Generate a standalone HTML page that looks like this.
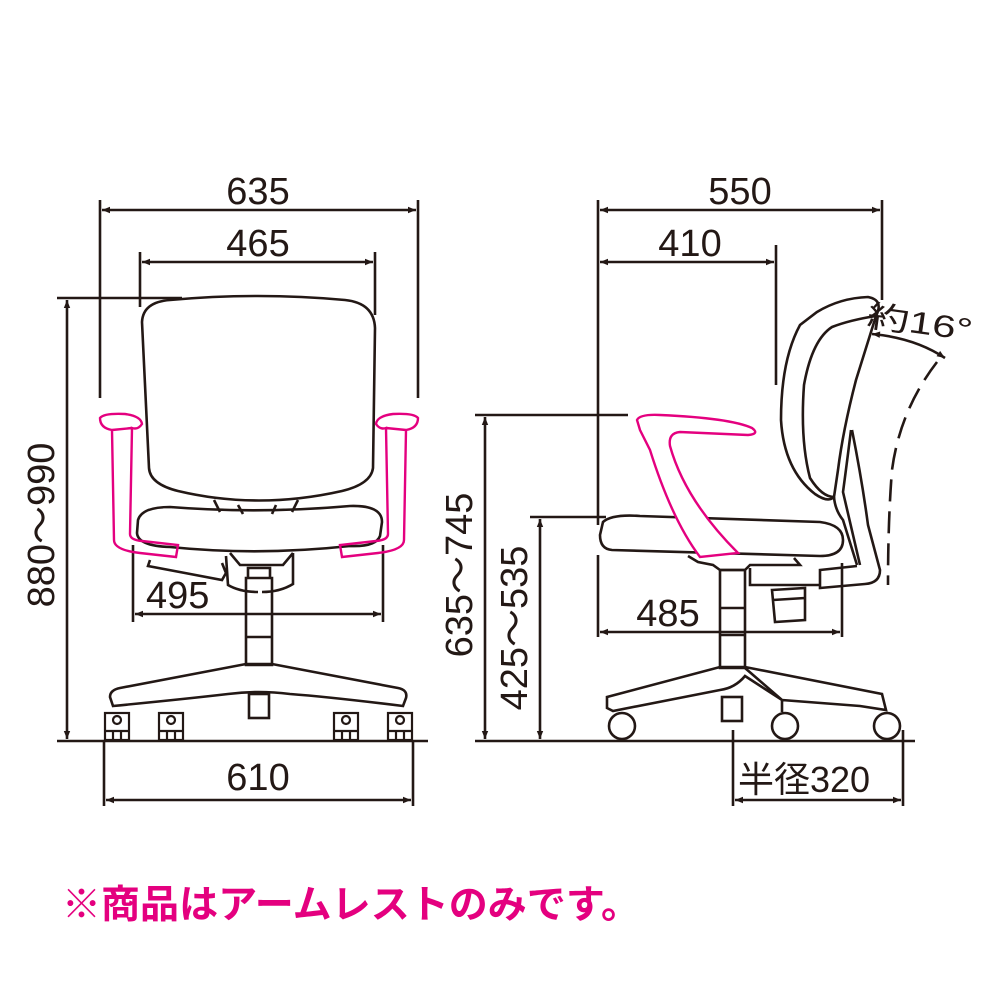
<!DOCTYPE html>
<html><head><meta charset="utf-8"><style>
html,body{margin:0;padding:0;background:#fff;}
svg{display:block}
text{font-family:"Liberation Sans","Noto Sans CJK JP",sans-serif;fill:#231815}
</style></head><body>
<svg width="1000" height="1000" viewBox="0 0 1000 1000" xmlns="http://www.w3.org/2000/svg">
<defs>
<marker id="a" viewBox="0 0 10 10" refX="10" refY="5" markerWidth="10" markerHeight="8" orient="auto-start-reverse" markerUnits="userSpaceOnUse"><path d="M0,1 L10,5 L0,9 Z" fill="#231815"/></marker>
</defs>
<g stroke="#231815" stroke-width="2.6" fill="none">
<!-- FRONT dims -->
<line x1="100" y1="200" x2="100" y2="398"/><line x1="418" y1="200" x2="418" y2="398"/>
<line x1="102" y1="210" x2="416" y2="210" marker-start="url(#a)" marker-end="url(#a)"/>
<line x1="140" y1="252" x2="140" y2="307"/><line x1="375" y1="252" x2="375" y2="315"/>
<line x1="142" y1="262" x2="373" y2="262" marker-start="url(#a)" marker-end="url(#a)"/>
<line x1="57" y1="298" x2="182" y2="298"/>
<line x1="67" y1="300" x2="67" y2="739" marker-start="url(#a)" marker-end="url(#a)"/>
<line x1="133" y1="545" x2="133" y2="622"/><line x1="383" y1="545" x2="383" y2="622"/>
<line x1="135" y1="614" x2="381" y2="614" marker-start="url(#a)" marker-end="url(#a)"/>
<line x1="57" y1="741" x2="428" y2="741"/>
<line x1="104" y1="741" x2="104" y2="806"/><line x1="413" y1="741" x2="413" y2="806"/>
<line x1="106" y1="800" x2="411" y2="800" marker-start="url(#a)" marker-end="url(#a)"/>
<!-- FRONT chair -->
<path d="M142,322 Q143,302 170,300 Q258,292 345,300 Q374,303 375,328 L373,468 Q371,484 342,491 Q258,510 178,491 Q150,484 149,468 Z"/>
<path d="M214,500 L220,512 M298,500 L292,512 M238,505 L243,514 M276,505 L272,514"/>
<path d="M138,520 Q142,507 170,507 Q258,514 350,506 Q382,505 382,522 L380,536 Q376,547 350,546 Q258,556 170,547 Q138,546 137,533 Z"/>
<path d="M230,553 L240,565 L283,565 L293,553 M226,556 L228,585 Q240,592 258,592 M293,553 L293,584 Q280,592 262,592"/>
<path d="M150,560 L148,566 L185,573 L222,580 L226,573 L222,563"/>
<path d="M248,568 L270,568 L270,578 L248,578 Z M246,578 L272,578 L272,665 L246,665 Z M246,637 L272,637"/>
<path d="M113,706 L110,697 Q110,690 120,688 L246,664 L272,664 L398,688 Q408,690 406,698 L403,706 Q330,697 290,694 Q258,690 228,694 Q185,699 113,706 Z"/>
<rect x="249" y="694" width="20" height="24"/>
<g stroke-width="2.2">
<rect x="105" y="713" width="24" height="27"/><circle cx="117" cy="720" r="4"/><line x1="105" y1="731" x2="129" y2="731"/><line x1="113" y1="731" x2="113" y2="740"/><line x1="121" y1="731" x2="121" y2="740"/>
<rect x="159" y="713" width="24" height="27"/><circle cx="171" cy="720" r="4"/><line x1="159" y1="731" x2="183" y2="731"/><line x1="167" y1="731" x2="167" y2="740"/><line x1="175" y1="731" x2="175" y2="740"/>
<rect x="334" y="713" width="24" height="27"/><circle cx="346" cy="720" r="4"/><line x1="334" y1="731" x2="358" y2="731"/><line x1="342" y1="731" x2="342" y2="740"/><line x1="350" y1="731" x2="350" y2="740"/>
<rect x="388" y="713" width="24" height="27"/><circle cx="400" cy="720" r="4"/><line x1="388" y1="731" x2="412" y2="731"/><line x1="396" y1="731" x2="396" y2="740"/><line x1="404" y1="731" x2="404" y2="740"/>
</g>
<!-- SIDE dims -->
<line x1="598" y1="200" x2="598" y2="525"/><line x1="882" y1="200" x2="882" y2="300"/>
<line x1="600" y1="210" x2="880" y2="210" marker-start="url(#a)" marker-end="url(#a)"/>
<line x1="776" y1="245" x2="776" y2="385"/>
<line x1="600" y1="262" x2="774" y2="262" marker-start="url(#a)" marker-end="url(#a)"/>
<line x1="475" y1="415" x2="628" y2="415"/>
<line x1="485" y1="417" x2="485" y2="739" marker-start="url(#a)" marker-end="url(#a)"/>
<line x1="530" y1="517" x2="606" y2="517"/>
<line x1="540" y1="519" x2="540" y2="739" marker-start="url(#a)" marker-end="url(#a)"/>
<line x1="598" y1="555" x2="598" y2="637"/><line x1="842" y1="563" x2="842" y2="637"/>
<line x1="600" y1="632" x2="840" y2="632" marker-start="url(#a)" marker-end="url(#a)"/>
<line x1="475" y1="741" x2="915" y2="741"/>
<line x1="733" y1="730" x2="733" y2="806"/><line x1="903" y1="730" x2="903" y2="806"/>
<line x1="735" y1="800" x2="901" y2="800" marker-start="url(#a)" marker-end="url(#a)"/>
<!-- SIDE chair -->
<path d="M817,312 Q840,298 868,297 Q884,300 876,316 L856,380 Q843,430 838,470 L834,497 Q828,503 815,494 Q784,470 781,420 Q781,360 800,325 Z"/>
<path d="M876,316 Q850,320 832,327 Q812,340 804,385 Q800,440 810,478 Q822,497 834,497"/>
<path d="M851,430 Q846,470 843,492 L860,565 M834,497 Q835,510 843,520 L857,565"/>
<path d="M852,430 Q862,480 868,525 L880,570 Q880,583 865,584 L820,588 L820,570 L857,566"/>
<path d="M603,522 Q612,514 640,516 L820,522 Q843,525 843,540 Q843,556 820,556 L612,550 Q600,549 600,535 Z"/>
<path d="M688,556 L698,562 L713,565 L720,570 L745,570 L750,565 L800,565 L794,558"/>
<path d="M750,568 L750,585 L820,585"/>
<path d="M772,590 L805,588 L805,620 L775,622 Z M773,600 L805,598"/>
<path d="M720,570 L745,570 L745,668 L720,668 Z M720,608 L745,608 M720,635 L745,635"/>
<path d="M607,697 L720,667 L745,667 L882,694 L886,710 L860,706 L782,700 L745,676 Q735,688 720,690 L613,711 L607,708 Z M745,668 L782,700 L782,712"/>
<rect x="722" y="697" width="20" height="24"/>
<circle cx="622" cy="726" r="13"/><circle cx="785" cy="726" r="13"/><circle cx="887" cy="726" r="13"/>
<path d="M937,362 Q900,410 892,470 Q888,520 888,585" stroke-dasharray="22,10"/>
<path d="M872,334 Q915,338 945,358" marker-start="url(#a)" marker-end="url(#a)"/>
</g>
<g stroke="#e4007f" stroke-width="2.4" fill="none">
<path d="M100,418 Q104,413 125,414 Q141,416 142,424 Q138,430 132,428 L130,534 Q130,540 142,541 L178,545 L176,557 L140,553 Q114,550 114,540 L112,430 Q100,428 100,418 Z M112,430 L132,428"/>
<path d="M418,418 Q414,413 393,414 Q377,416 376,424 Q380,430 386,428 L388,534 Q388,540 376,541 L340,545 L342,557 L378,553 Q404,550 404,540 L406,430 Q418,428 418,418 Z M406,430 L386,428"/>
<path fill="#fff" d="M637,420 Q640,414 660,415 Q730,418 752,428 Q760,434 748,435 L680,432 Q668,433 670,446 Q685,500 738,553 L700,557 Q672,520 650,450 L640,430 Z"/>
</g>
<g font-size="38">
<text x="258" y="204" text-anchor="middle">635</text>
<text x="258" y="256" text-anchor="middle">465</text>
<text x="146" y="608">495</text>
<text x="258" y="790" text-anchor="middle">610</text>
<text x="740" y="204" text-anchor="middle">550</text>
<text x="690" y="256" text-anchor="middle">410</text>
<text x="668" y="626" text-anchor="middle">485</text>
<text x="738" y="792" font-size="36">半径320</text>
<text transform="translate(54,525) rotate(-90)" text-anchor="middle">880～990</text>
<text transform="translate(472,575) rotate(-90)" text-anchor="middle">635～745</text>
<text transform="translate(527,628) rotate(-90)" text-anchor="middle">425～535</text>
</g>
<text transform="translate(866,326) rotate(8)" font-size="31" textLength="106" lengthAdjust="spacingAndGlyphs">約16°</text>
<text x="62" y="918" font-size="39" font-weight="bold" textLength="578" lengthAdjust="spacingAndGlyphs" style="fill:#e4007f">※商品はアームレストのみです。</text>
</svg>
</body></html>
